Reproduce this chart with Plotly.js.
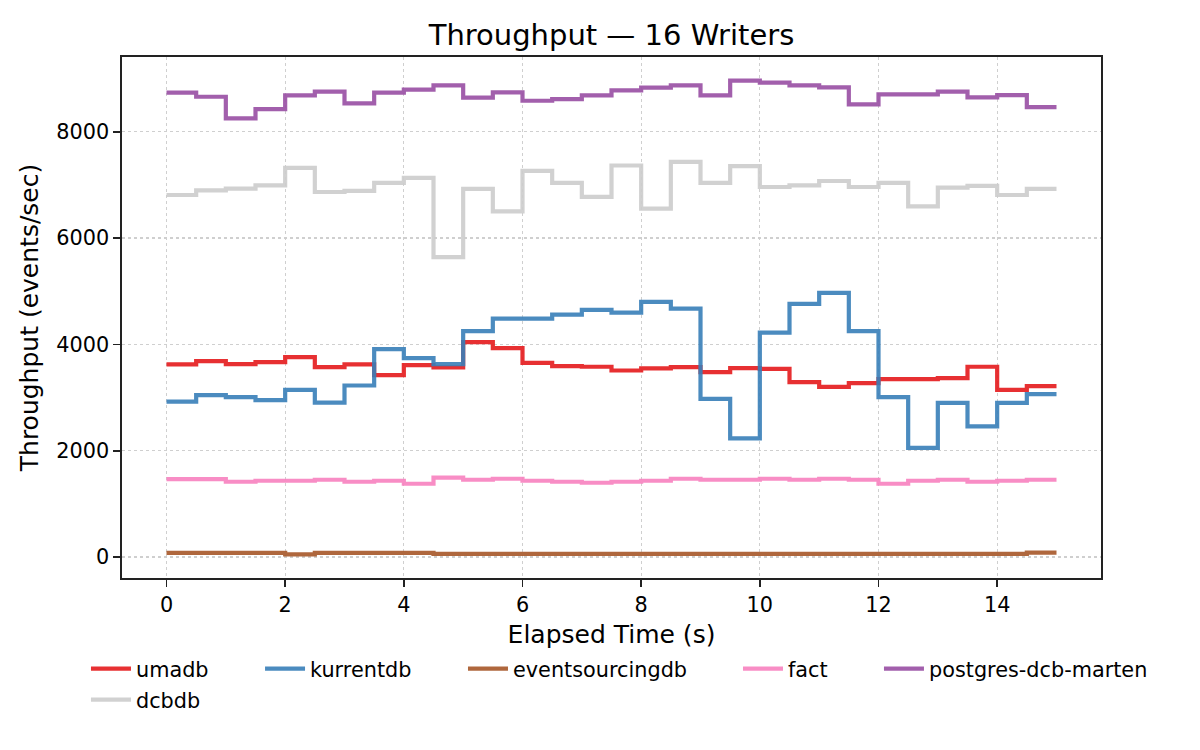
<!DOCTYPE html>
<html>
<head>
<meta charset="utf-8">
<script src="https://cdn.plot.ly/plotly-3.0.1.min.js"></script>
<style>
  body { margin: 0; background: white; }
  #graphDiv { width: 1200px; height: 750px; }
</style>
</head>
<body>
<div id="graphDiv"></div>
<script>
// html tag
const graphDiv = document.getElementById('graphDiv');

// data *********************************************
// elapsed time (s), one sample per 0.5 s, last point closes the final step
const elapsed = [0, 0.5, 1, 1.5, 2, 2.5, 3, 3.5, 4, 4.5, 5, 5.5, 6, 6.5, 7, 7.5,
                 8, 8.5, 9, 9.5, 10, 10.5, 11, 11.5, 12, 12.5, 13, 13.5, 14, 14.5, 15];

const umadb = [3623, 3685, 3628, 3666, 3761, 3572, 3623, 3421, 3610, 3566, 4044, 3931, 3654, 3591, 3579, 3509,
               3547, 3572, 3478, 3553, 3541, 3289, 3201, 3270, 3346, 3346, 3364, 3579, 3145, 3214, 3214];

const kurrentdb = [2924, 3044, 3006, 2950, 3145, 2905, 3226, 3912, 3742, 3628, 4251, 4485, 4485, 4560, 4648, 4598,
                   4799, 4674, 2975, 2233, 4220, 4761, 4968, 4251, 3006, 2051, 2899, 2459, 2899, 3063, 3063];

const eventsourcingdb = [75, 75, 75, 75, 50, 75, 75, 75, 75, 58, 58, 58, 58, 58, 58, 58,
                         58, 58, 58, 58, 58, 58, 58, 58, 58, 58, 58, 58, 58, 82, 82];

const fact = [1466, 1466, 1415, 1434, 1434, 1453, 1415, 1434, 1378, 1491, 1453, 1472, 1434, 1415, 1396, 1415,
              1434, 1472, 1453, 1453, 1472, 1453, 1472, 1453, 1378, 1434, 1453, 1415, 1434, 1453, 1453];

const postgresDcbMarten = [8736, 8660, 8253, 8428, 8687, 8755, 8535, 8736, 8793, 8875, 8642, 8743, 8585, 8617, 8687, 8781,
                           8830, 8875, 8687, 8962, 8925, 8875, 8838, 8517, 8705, 8705, 8755, 8649, 8692, 8466, 8466];

const dcbdb = [6811, 6900, 6932, 6994, 7321, 6868, 6887, 7038, 7132, 5641, 6925, 6504, 7264, 7038, 6774, 7366,
               6555, 7434, 7038, 7353, 6962, 6994, 7075, 6962, 7038, 6598, 6951, 6981, 6811, 6925, 6925];

// style *********************************************
const FONT = 'DejaVu Sans, sans-serif';
const AX_FS = 20.8;   // 10pt @150dpi

function stepTrace(name, y, color, legendId) {
  return {
    name: name,
    x: elapsed,
    y: y,
    type: 'scatter',
    mode: 'lines',
    line: { color: color, width: 4.2, shape: 'hv' },
    opacity: 0.9,
    legend: legendId
  };
}

// legend slots laid out like matplotlib ncol=5 (x in paper coords)
function legendSlot(x, y) {
  return {
    x: x, y: y, xanchor: 'left', yanchor: 'middle',
    orientation: 'h',
    itemwidth: 40,
    bgcolor: 'rgba(0,0,0,0)',
    font: { family: FONT, size: AX_FS, color: 'black' }
  };
}

function axisStyle(titleText, range, dtick, standoff) {
  return {
    title: { text: titleText, font: { family: FONT, size: 25, color: 'black' }, standoff: standoff },
    range: range,
    tick0: 0,
    dtick: dtick,
    ticks: 'outside',
    ticklen: 7,
    tickwidth: 1.7,
    tickcolor: '#222',
    tickfont: { family: FONT, size: AX_FS, color: 'black' },
    showline: true,
    mirror: true,
    linecolor: '#222',
    linewidth: 1.7,
    showgrid: true,
    gridcolor: '#cfcfcf',
    gridwidth: 1.3,
    griddash: 'dot',
    zeroline: false,
    automargin: false
  };
}

// plot **********************************************
Plotly.newPlot(
  graphDiv,
  [
    stepTrace('umadb', umadb, '#e41a1c', 'legend'),
    stepTrace('kurrentdb', kurrentdb, '#377eb8', 'legend2'),
    stepTrace('eventsourcingdb', eventsourcingdb, '#a65628', 'legend3'),
    stepTrace('fact', fact, '#f781bf', 'legend4'),
    stepTrace('postgres-dcb-marten', postgresDcbMarten, '#984ea3', 'legend5'),
    stepTrace('dcbdb', dcbdb, '#cccccc', 'legend6')
  ],
  {
    width: 1200,
    height: 750,
    margin: { l: 122, r: 99, t: 57, b: 172 },
    paper_bgcolor: 'white',
    plot_bgcolor: 'white',
    font: { family: FONT, color: 'black' },
    title: {
      text: 'Throughput — 16 Writers',
      font: { family: FONT, size: 29, color: 'black' },
      x: 0.5, xref: 'paper', xanchor: 'center',
      y: 1 - 35 / 750, yref: 'container', yanchor: 'middle'
    },
    xaxis: axisStyle('Elapsed Time (s)', [-0.75, 15.75], 2, 10),
    yaxis: axisStyle('Throughput (events/sec)', [-396, 9408], 2000, 10),
    showlegend: true,
    legend:  legendSlot(-0.0368, -0.1747),
    legend2: legendSlot(0.1410, -0.1747),
    legend3: legendSlot(0.3483, -0.1747),
    legend4: legendSlot(0.6292, -0.1747),
    legend5: legendSlot(0.7732, -0.1747),
    legend6: legendSlot(-0.0368, -0.2342)
  },
  { displayModeBar: false, staticPlot: true }
);
</script>
</body>
</html>
